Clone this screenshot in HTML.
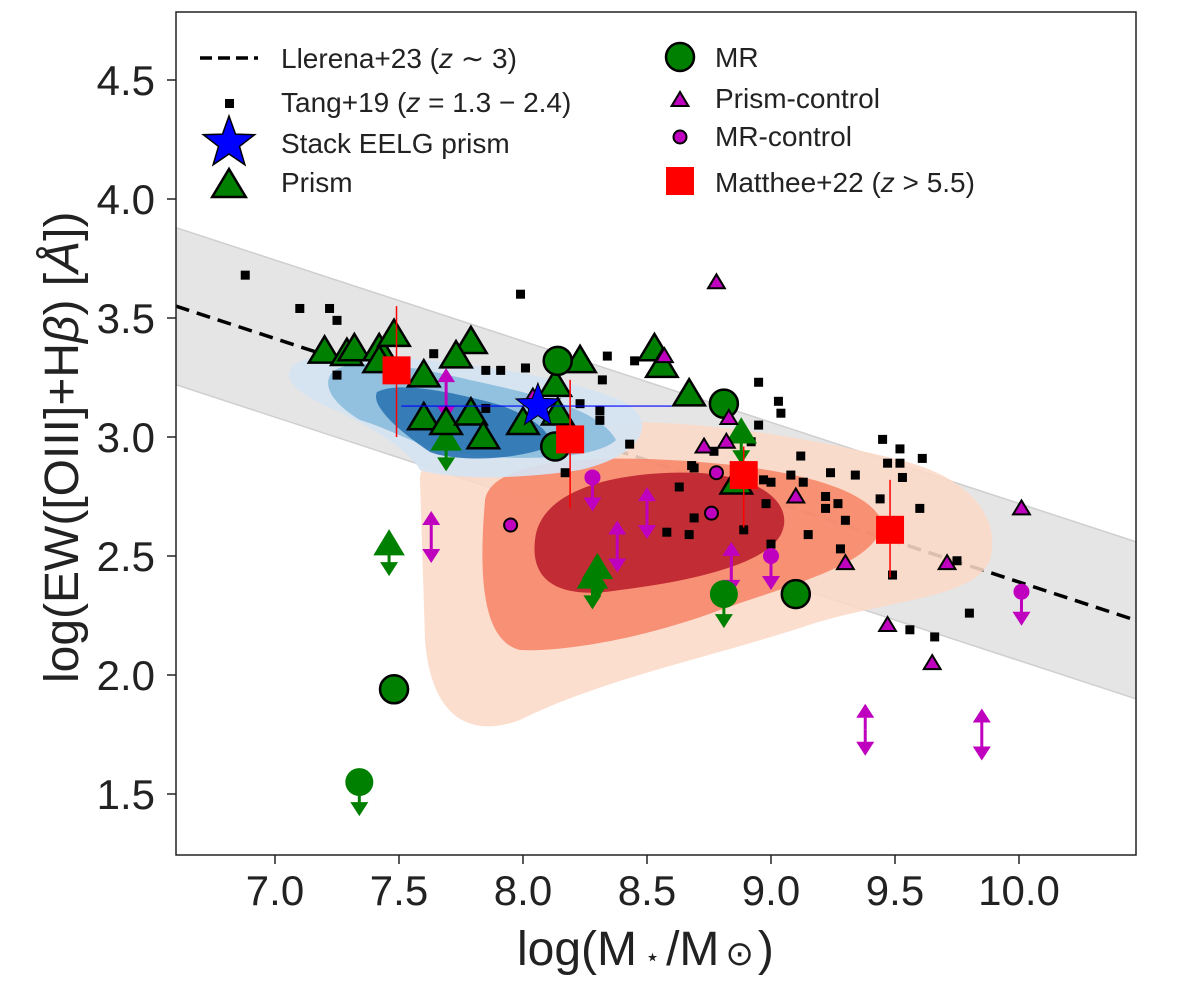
<!DOCTYPE html>
<html><head><meta charset="utf-8"><style>
html,body{margin:0;padding:0;background:#fff}
svg{display:block;font-family:"Liberation Sans","DejaVu Sans",sans-serif}
</style></head><body>
<svg id="chart" width="1200" height="997" viewBox="0 0 1200 997" xmlns="http://www.w3.org/2000/svg">
<defs><clipPath id="clip"><rect x="176" y="12" width="960" height="843"/></clipPath></defs>
<rect x="0" y="0" width="1200" height="997" fill="#fff"/>
<g id="plot" clip-path="url(#clip)"></g>
<rect x="176" y="12" width="960" height="843" fill="none" stroke="#222" stroke-width="1.5"/>
<g id="ticks"></g>
<text x="517" y="965" font-size="48" fill="#222">log(M<tspan font-size="24" dx="8">⋆</tspan><tspan dx="6">/M</tspan><tspan font-size="34" dx="6">⊙</tspan><tspan dx="4">)</tspan></text>
<text transform="translate(78,683) rotate(-90)" font-size="48" fill="#222">log(EW([OIII]+H<tspan font-style="italic">β</tspan>) [<tspan font-style="italic">Å</tspan>])</text>
<g id="legend"></g>
</svg>
<script>
const tangX=[6.88,7.10,7.22,7.25,7.25,7.99,7.64,7.85,7.91,8.01,8.23,7.85,8.31,8.31,8.17,8.34,8.45,8.32,8.95,9.03,9.04,8.95,8.43,8.92,8.77,9.12,9.45,9.52,9.61,9.47,9.52,9.24,9.34,9.53,9.08,8.97,9.00,9.13,8.68,8.69,8.63,9.22,9.27,9.22,8.98,9.44,9.60,9.30,8.69,8.58,8.67,8.89,9.15,9.00,9.28,9.75,9.49,9.80,9.56,9.66];
const tangY=[3.68,3.54,3.54,3.49,3.26,3.60,3.35,3.28,3.28,3.29,3.14,3.12,3.11,3.07,2.85,3.34,3.32,3.24,3.23,3.15,3.10,3.05,2.97,2.98,2.94,2.92,2.99,2.95,2.91,2.89,2.89,2.85,2.84,2.83,2.84,2.82,2.81,2.81,2.88,2.87,2.79,2.75,2.72,2.70,2.72,2.74,2.70,2.65,2.66,2.60,2.59,2.61,2.59,2.55,2.53,2.48,2.42,2.26,2.19,2.16];
const prismX=[7.20,7.29,7.32,7.42,7.48,7.79,7.73,7.60,7.42,7.60,7.69,7.79,7.84,8.00,8.13,8.14,8.23,8.53,8.56,8.67,8.86];
const prismY=[3.36,3.35,3.37,3.37,3.43,3.40,3.34,3.26,3.32,3.08,3.06,3.10,3.00,3.06,3.22,3.10,3.32,3.37,3.30,3.18,2.81];
const prismLimX=[7.46,8.30,8.28,7.69,8.88];
const prismLimY=[2.55,2.45,2.41,2.99,3.02];
const mrX=[8.14,8.13,8.81,9.10,7.48];
const mrY=[3.32,2.96,3.14,2.34,1.94];
const mrLimX=[8.81,7.34];
const mrLimY=[2.34,1.55];
const pcX=[8.78,8.57,8.83,8.73,8.82,9.10,9.30,9.71,10.01,9.47,9.65,8.04];
const pcY=[3.65,3.34,3.08,2.96,2.98,2.75,2.47,2.47,2.70,2.21,2.05,3.17];
const mcX=[8.78,8.76,7.95];
const mcY=[2.85,2.68,2.63];
const mcLimX=[8.28,9.00,10.01];
const mcLimY=[2.83,2.50,2.35];
const dblX=[7.63,8.38,8.50,7.69,8.84,9.38,9.85];
const dblY=[2.58,2.54,2.68,3.18,2.45,1.77,1.75];
const matX=[7.49,8.19,8.89,9.48];
const matY=[3.28,2.99,2.84,2.61];
const matLo=[3.00,2.70,2.62,2.41];
const matHi=[3.55,3.24,2.96,2.82];
const starX=[8.06], starY=[3.13], starLo=[7.51], starHi=[8.60];
const llerena={slope:-0.341, at:6.6, y0:3.55, width:0.33};
const xTicks=[7.0,7.5,8.0,8.5,9.0,9.5,10.0,10.5];
const yTicks=[1.5,2.0,2.5,3.0,3.5,4.0,4.5];

const X=v=>275+(v-7)*248;
const Y=v=>437-(v-3)*238;
const NS='http://www.w3.org/2000/svg';
function mk(tag,attrs,parent){const e=document.createElementNS(NS,tag);for(const k in attrs)e.setAttribute(k,attrs[k]);parent.appendChild(e);return e;}
const plot=document.getElementById('plot');

const lx0=6.6,lx1=10.6;
const ly=x=>llerena.y0+llerena.slope*(x-llerena.at);
let band=mk('polygon',{points:`${X(lx0)},${Y(ly(lx0)+llerena.width)} ${X(lx1)},${Y(ly(lx1)+llerena.width)} ${X(lx1)},${Y(ly(lx1)-llerena.width)} ${X(lx0)},${Y(ly(lx0)-llerena.width)}`,fill:'#e5e5e5',stroke:'#cfcfcf','stroke-width':1.5},plot);



let ll=mk('line',{x1:X(lx0),y1:Y(ly(lx0)),x2:X(lx1),y2:Y(ly(lx1)),stroke:'#000','stroke-width':3.5,'stroke-dasharray':'14,8'},plot);



const contours=[
['red-contour-outer','#fcd9c8',.88,'M420,480 C420,440 500,428 600,423 C700,418 820,440 900,460 C980,480 1000,525 990,560 C975,600 880,600 800,628 C700,660 600,680 520,720 C460,742 430,705 425,640 Z'],
['red-contour-mid','#f7876a',.9,'M485,500 C492,458 600,454 700,462 C800,470 870,490 882,522 C880,562 800,582 720,610 C640,640 560,652 520,650 C478,640 480,560 485,500 Z'],
['red-contour-inner','#bd2530',.92,'M535,540 C540,488 620,470 700,473 C770,478 792,508 782,532 C770,562 700,580 620,590 C560,600 530,582 535,540 Z'],
['blue-contour-outer','#d5e4f3',.92,'M290,370 C300,350 360,354 400,358 C480,364 560,376 620,400 C662,420 642,456 580,470 C500,482 440,477 420,470 C410,452 380,432 340,412 C300,396 285,382 290,370 Z'],
['blue-contour-mid','#8dbfdd',.95,'M335,370 C360,356 420,368 470,380 C540,395 600,410 616,440 C600,456 540,462 470,455 C420,450 400,432 360,420 C330,402 320,382 335,370 Z'],
['blue-contour-inner','#3179b5',.95,'M377,392 C400,380 460,394 500,405 C540,420 562,440 540,450 C500,462 450,460 430,452 C400,432 370,406 377,392 Z']];
contours.forEach(c=>{const p=mk('path',{d:c[3],fill:c[1],'fill-opacity':c[2]},plot);

});

function tri(cx,cy,s,fill,stroke,sw,parent){return mk('polygon',{points:`${cx},${cy-s} ${cx-s*1.05},${cy+s*0.75} ${cx+s*1.05},${cy+s*0.75}`,fill,stroke,'stroke-width':sw,'stroke-linejoin':'miter'},parent);}
function arrowDown(cx,y1,len,col,parent){mk('line',{x1:cx,y1:y1,x2:cx,y2:y1+len-10,stroke:col,'stroke-width':3},parent);mk('polygon',{points:`${cx-9},${y1+len-12} ${cx+9},${y1+len-12} ${cx},${y1+len+2}`,fill:col},parent);}
function arrowUp(cx,y1,len,col,parent){mk('line',{x1:cx,y1:y1,x2:cx,y2:y1-len+10,stroke:col,'stroke-width':3},parent);mk('polygon',{points:`${cx-9},${y1-len+12} ${cx+9},${y1-len+12} ${cx},${y1-len-2}`,fill:col},parent);}

tangX.forEach((v,i)=>{const r=mk('rect',{x:X(v)-4.5,y:Y(tangY[i])-4.5,width:9,height:9,fill:'#000'},plot);

});

dblX.forEach((v,i)=>{const g=mk('g',{},plot);


arrowUp(X(v),Y(dblY[i]),24,'#bf00bf',g);arrowDown(X(v),Y(dblY[i]),24,'#bf00bf',g);});
mcLimX.forEach((v,i)=>{const g=mk('g',{},plot);


arrowDown(X(v),Y(mcLimY[i]),32,'#bf00bf',g);mk('circle',{cx:X(v),cy:Y(mcLimY[i]),r:8,fill:'#bf00bf'},g);});

prismLimX.forEach((v,i)=>{const g=mk('g',{},plot);


arrowDown(X(v),Y(prismLimY[i]),30,'#008000',g);tri(X(v),Y(prismLimY[i]),15,'#008000','none',0,g);});
mrLimX.forEach((v,i)=>{const g=mk('g',{},plot);


arrowDown(X(v),Y(mrLimY[i]),32,'#008000',g);mk('circle',{cx:X(v),cy:Y(mrLimY[i]),r:14,fill:'#008000'},g);});

prismX.forEach((v,i)=>{const t=tri(X(v),Y(prismY[i]),15,'#008000','#000',2.5,plot);

});
mrX.forEach((v,i)=>{const c=mk('circle',{cx:X(v),cy:Y(mrY[i]),r:14,fill:'#008000',stroke:'#000','stroke-width':2.5},plot);

});
pcX.forEach((v,i)=>{const t=tri(X(v),Y(pcY[i]),8,'#bf00bf','#000',2,plot);

});
mcX.forEach((v,i)=>{const c=mk('circle',{cx:X(v),cy:Y(mcY[i]),r:6.5,fill:'#bf00bf',stroke:'#000','stroke-width':2},plot);

});

function starPts(cx,cy,R,r){let p=[];for(let k=0;k<10;k++){const a=-Math.PI/2+k*Math.PI/5;const rr=k%2?r:R;p.push((cx+rr*Math.cos(a)).toFixed(1)+','+(cy+rr*Math.sin(a)).toFixed(1));}return p.join(' ');}
starX.forEach((v,i)=>{const g=mk('g',{},plot);


mk('line',{x1:X(starLo[i]),y1:Y(starY[i]),x2:X(starHi[i]),y2:Y(starY[i]),stroke:'#0000ff','stroke-width':1.2},g);
mk('polygon',{points:starPts(X(v),Y(starY[i]),23,9.5),fill:'#0000ff',stroke:'#000','stroke-width':1},g);});

matX.forEach((v,i)=>{const g=mk('g',{},plot);


mk('line',{x1:X(v),y1:Y(matLo[i]),x2:X(v),y2:Y(matHi[i]),stroke:'#ff0000','stroke-width':1.5},g);
mk('rect',{x:X(v)-14,y:Y(matY[i])-14,width:28,height:28,fill:'#ff0000'},g);});

const tk=document.getElementById('ticks');
xTicks.forEach(v=>{if(X(v)>1140)return;mk('line',{x1:X(v),y1:855,x2:X(v),y2:864,stroke:'#222','stroke-width':1.5},tk);
const t=mk('text',{x:X(v),y:905,'font-size':42,'text-anchor':'middle',fill:'#222'},tk);t.textContent=v.toFixed(1);

});
yTicks.forEach(v=>{mk('line',{x1:167,y1:Y(v),x2:176,y2:Y(v),stroke:'#222','stroke-width':1.5},tk);
const t=mk('text',{x:155,y:Y(v)+15,'font-size':42,'text-anchor':'end',fill:'#222'},tk);t.textContent=v.toFixed(1);

});

const lg=document.getElementById('legend');
function ltext(x,y,html,name){const t=mk('text',{x:x,y:y,'font-size':28,fill:'#222'},lg);t.innerHTML=html;

}
mk('line',{x1:200,y1:58,x2:258,y2:58,stroke:'#000','stroke-width':3.5,'stroke-dasharray':'12,6'},lg);
ltext(281,68,'Llerena+23 (<tspan font-style="italic">z</tspan> ∼ 3)','legend-llerena');
mk('rect',{x:225,y:99,width:9,height:9,fill:'#000'},lg);
ltext(281,112,'Tang+19 (<tspan font-style="italic">z</tspan> = 1.3 − 2.4)','legend-tang');
mk('polygon',{points:starPts(229,143,27,11),fill:'#0000ff',stroke:'#000','stroke-width':1.5},lg);
ltext(281,153,'Stack EELG prism','legend-stack');
tri(229,185,16,'#008000','#000',2.5,lg);
ltext(281,192,'Prism','legend-prism');
mk('circle',{cx:680,cy:57,r:14,fill:'#008000',stroke:'#000','stroke-width':2.5},lg);
ltext(715,67,'MR','legend-mr');
tri(680,100,8,'#bf00bf','#000',2,lg);
ltext(715,108,'Prism-control','legend-prism-control');
mk('circle',{cx:680,cy:137,r:6.5,fill:'#bf00bf',stroke:'#000','stroke-width':2},lg);
ltext(715,146,'MR-control','legend-mr-control');
mk('rect',{x:666,y:167,width:28,height:28,fill:'#ff0000'},lg);
ltext(715,192,'Matthee+22 (<tspan font-style="italic">z</tspan> &gt; 5.5)','legend-matthee');
</script>
</body></html>
